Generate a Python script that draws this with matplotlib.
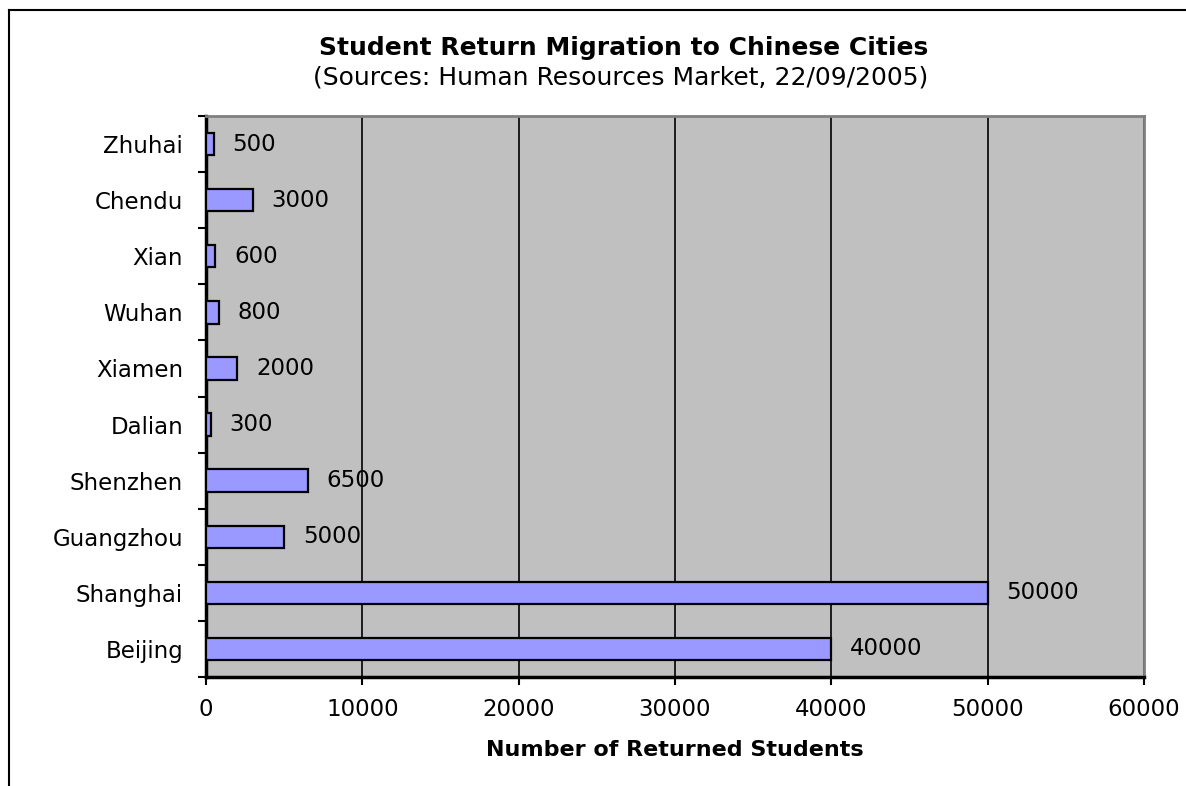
import matplotlib
matplotlib.use("Agg")
import matplotlib.pyplot as plt
from matplotlib.lines import Line2D
from matplotlib.ticker import FixedLocator, NullFormatter

cities = ["Beijing", "Shanghai", "Guangzhou", "Shenzhen", "Dalian", "Xiamen", "Wuhan", "Xian", "Chendu", "Zhuhai"]
students = [40000, 50000, 5000, 6500, 300, 2000, 800, 600, 3000, 500]
xticks = [0, 10000, 20000, 30000, 40000, 50000, 60000]

plt.rcParams['font.family'] = ['DejaVu Sans']

FS = 16.5
W, H = 1186, 786
fig = plt.figure(figsize=(W/100, H/100), dpi=100)
ax = fig.add_axes([206/W, 1-677/H, (1144-206)/W, (677-116)/H])
ax.set_facecolor('#C0C0C0')

ypos = list(range(len(cities)))
ax.barh(ypos, students, height=0.4, color='#9999FF', edgecolor='black', linewidth=1.6, zorder=3)
for y, v in zip(ypos, students):
    ax.text(v + 1200, y, str(v), va='center', ha='left', fontsize=FS, zorder=4)

ax.set_xlim(0, 60000)
ax.set_ylim(-0.5, len(cities) - 0.5)
ax.set_xticks(xticks)
ax.set_xticklabels([str(t) for t in xticks], fontsize=FS)
ax.xaxis.grid(True, color='black', linewidth=1.2, zorder=1)
ax.set_axisbelow(True)
ax.set_yticks(ypos)
ax.set_yticklabels(cities, fontsize=FS)
ax.tick_params(axis='y', length=0, pad=16.5)
ax.yaxis.set_minor_locator(FixedLocator([i - 0.5 for i in range(len(cities) + 1)]))
ax.yaxis.set_minor_formatter(NullFormatter())
ax.tick_params(axis='y', which='minor', length=6, width=1.5, direction='out')
ax.tick_params(axis='x', length=6, width=1.5, direction='out', pad=9)

for s in ['left', 'bottom']:
    ax.spines[s].set_color('black')
    ax.spines[s].set_linewidth(2.5)
for s in ['top', 'right']:
    ax.spines[s].set_color('#808080')
    ax.spines[s].set_linewidth(2)

ax.set_xlabel('Number of Returned Students', fontsize=16, fontweight='bold', labelpad=14)

fig.text(624/W, 1-48/H, 'Student Return Migration to Chinese Cities', ha='center', va='center',
         fontsize=18, fontweight='bold')
fig.text(621/W, 1-78/H, '(Sources: Human Resources Market, 22/09/2005)', ha='center', va='center',
         fontsize=18)

fig.add_artist(Line2D([9/W, 9/W], [0, 1-10/H], color='black', linewidth=1.5, transform=fig.transFigure))
fig.add_artist(Line2D([9/W, 1], [1-10/H, 1-10/H], color='black', linewidth=1.5, transform=fig.transFigure))

fig.savefig('out.png', dpi=100)
